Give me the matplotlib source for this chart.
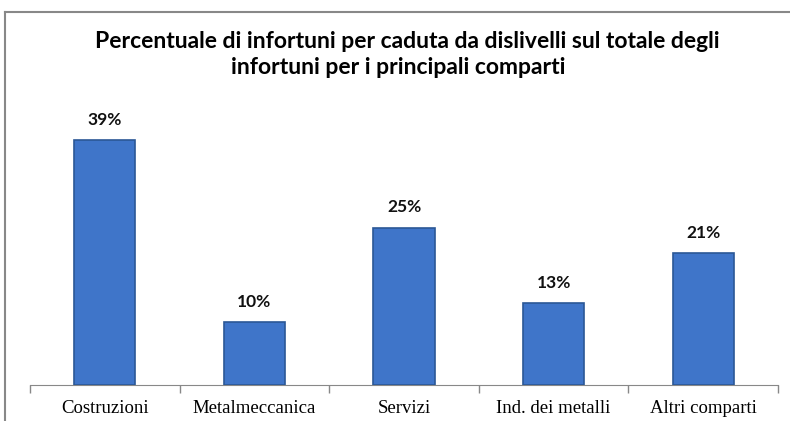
import matplotlib
matplotlib.use("Agg")
import matplotlib.pyplot as plt
from matplotlib.lines import Line2D

categories = ["Costruzioni", "Metalmeccanica", "Servizi", "Ind. dei metalli", "Altri comparti"]
values = [39, 10, 25, 13, 21]
labels = ["39%", "10%", "25%", "13%", "21%"]

W, H = 790, 421
fig = plt.figure(figsize=(W/100, H/100), dpi=100)
fig.patch.set_facecolor("white")

ax_left, ax_right, base_y = 30, 778, 385
px_per = 6.28
ymax = 45
ax = fig.add_axes([ax_left/W, (H-base_y)/H, (ax_right-ax_left)/W, ymax*px_per/H])
x = list(range(len(categories)))
ax.bar(x, values, width=0.41, color="#3F75C9", edgecolor="#2B5896", linewidth=1.2, zorder=3)
for xi, v, lab in zip(x, values, labels):
    ax.text(xi, v + 2.0, lab, ha="center", va="bottom", fontsize=12.5, fontweight="bold",
            family=["Lato", "DejaVu Sans"], color="#111111")
ax.set_xlim(-0.5, len(categories)-0.5)
ax.set_ylim(0, ymax)
for s in ["top", "right", "left"]:
    ax.spines[s].set_visible(False)
ax.spines["bottom"].set_color("#888888")
ax.set_yticks([])
ax.set_xticks([i - 0.5 for i in range(len(categories)+1)], minor=False)
ax.set_xticklabels([""]*(len(categories)+1))
ax.tick_params(axis="x", length=6, color="#888888", width=1)
ax.set_xticks(x, minor=True)
ax.set_xticklabels(categories, minor=True, family=["Liberation Serif", "DejaVu Serif"], fontsize=13.5)
ax.tick_params(axis="x", which="minor", length=0, pad=11)

fig.text(407/W, 1-41/H, "Percentuale di infortuni per caduta da dislivelli sul totale degli",
         ha="center", va="center", fontsize=16.5, fontweight="bold", family=["Lato", "DejaVu Sans"])
fig.text(398/W, 1-67/H, "infortuni per i principali comparti",
         ha="center", va="center", fontsize=16.5, fontweight="bold", family=["Lato", "DejaVu Sans"])

fig.add_artist(Line2D([5/W, 5/W], [0, 1-12/H], color="#888888", lw=1.5, transform=fig.transFigure))
fig.add_artist(Line2D([5/W, 1], [1-12/H, 1-12/H], color="#888888", lw=1.5, transform=fig.transFigure))

fig.savefig("out.png", dpi=100)
